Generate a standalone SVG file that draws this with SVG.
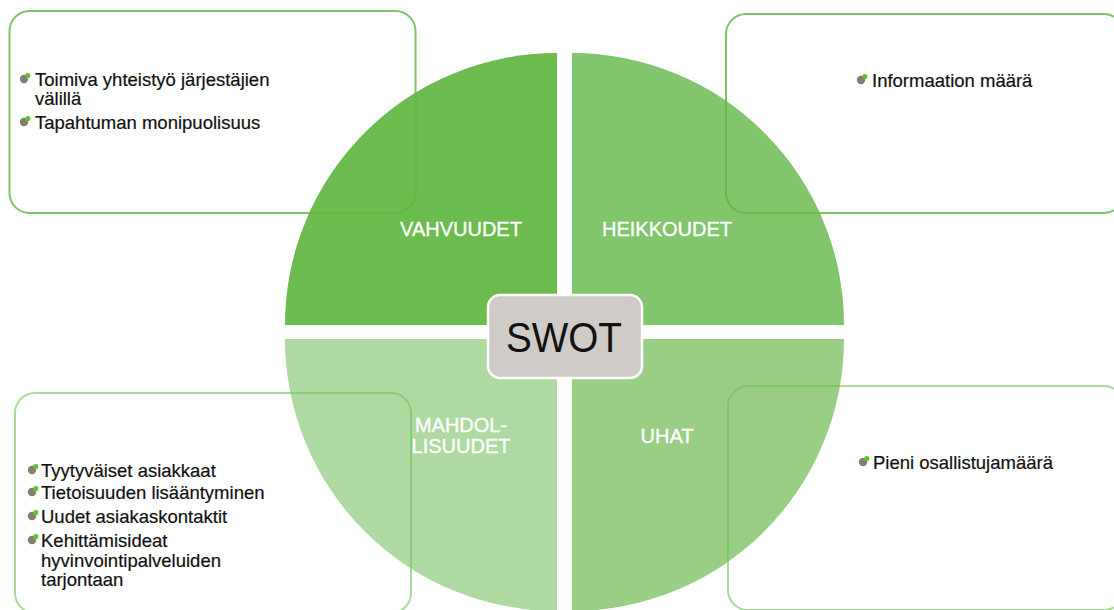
<svg xmlns="http://www.w3.org/2000/svg" width="1114" height="610" viewBox="0 0 1114 610">
  <style>
    .item { font-family: "Liberation Sans", Arial, sans-serif; font-size: 18.5px; fill: #111111; stroke: #111111; stroke-width: 0.2; }
    .label { font-family: "Liberation Sans", Arial, sans-serif; font-size: 20px; fill: #ffffff; stroke: #ffffff; stroke-width: 0.35; text-anchor: middle; }
    .title { font-family: "Liberation Sans", Arial, sans-serif; font-size: 43px; fill: #111111; text-anchor: middle; }
    .frame { fill: none; stroke-width: 2; }
    .frame-dark { stroke: rgb(95,182,62); stroke-opacity: 0.8; }
    .frame-light { stroke: rgb(110,195,85); stroke-opacity: 0.6; }
    .dot-b { fill: #8a7b6c; }
    .dot-g { fill: #5cc232; }
  </style>
  <defs>
    <g id="bullet">
      <circle class="dot-b" cx="-1" cy="1" r="4.2"/>
      <circle class="dot-g" cx="2.8" cy="-2.4" r="2.6"/>
    </g>
  </defs>

  <rect width="1114" height="610" fill="#ffffff"/>

  <!-- four quarter circles around the centre -->
  <g id="quadrants">
    <path id="q-strengths" d="M557,325 L285,325 A272,272 0 0 1 557,53 Z" fill="#6bbb4f"/>
    <path id="q-weaknesses" d="M572,325 L572,53 A272,272 0 0 1 844,325 Z" fill="#81c56c"/>
    <path id="q-opportunities" d="M557,339 L557,611 A272,272 0 0 1 285,339 Z" fill="#aed9a0"/>
    <path id="q-threats" d="M572,339 L844,339 A272,272 0 0 1 572,611 Z" fill="#98cf85"/>
  </g>

  <g id="label-strengths"><text class="label" x="461" y="236">VAHVUUDET</text></g>
  <g id="label-weaknesses"><text class="label" x="667" y="236">HEIKKOUDET</text></g>
  <g id="label-opportunities">
    <text class="label" x="461" y="432">MAHDOL-</text>
    <text class="label" x="461" y="453">LISUUDET</text>
  </g>
  <g id="label-threats"><text class="label" x="667" y="443">UHAT</text></g>

  <!-- text boxes -->
  <g id="box-strengths">
    <rect class="frame frame-dark" x="9.5" y="11" width="406" height="202" rx="20"/>
    <use href="#bullet" x="25" y="78"/>
    <text class="item" x="35" y="86">Toimiva yhteistyö järjestäjien</text>
    <text class="item" x="35" y="105">välillä</text>
    <use href="#bullet" x="25" y="121"/>
    <text class="item" x="35" y="129">Tapahtuman monipuolisuus</text>
  </g>

  <g id="box-weaknesses">
    <rect class="frame frame-dark" x="726" y="14" width="398" height="199" rx="20"/>
    <use href="#bullet" x="862" y="79"/>
    <text class="item" x="872" y="87">Informaation määrä</text>
  </g>

  <g id="box-opportunities">
    <rect class="frame frame-light" x="15" y="393" width="396" height="220" rx="20"/>
    <use href="#bullet" x="33" y="469"/>
    <text class="item" x="41" y="477">Tyytyväiset asiakkaat</text>
    <use href="#bullet" x="33" y="491"/>
    <text class="item" x="41" y="499">Tietoisuuden lisääntyminen</text>
    <use href="#bullet" x="33" y="515"/>
    <text class="item" x="41" y="523">Uudet asiakaskontaktit</text>
    <use href="#bullet" x="33" y="539"/>
    <text class="item" x="41" y="547">Kehittämisideat</text>
    <text class="item" x="41" y="567">hyvinvointipalveluiden</text>
    <text class="item" x="41" y="586">tarjontaan</text>
  </g>

  <g id="box-threats">
    <rect class="frame frame-light" x="728" y="386" width="396" height="224" rx="20"/>
    <use href="#bullet" x="864" y="461"/>
    <text class="item" x="873" y="469">Pieni osallistujamäärä</text>
  </g>

  <!-- centre title -->
  <g id="swot">
    <rect x="488" y="295" width="154" height="83" rx="12" fill="#cfcbc6" stroke="#ffffff" stroke-width="2.5"/>
    <text class="title" x="564" y="352" textLength="116" lengthAdjust="spacingAndGlyphs">SWOT</text>
  </g>
</svg>
